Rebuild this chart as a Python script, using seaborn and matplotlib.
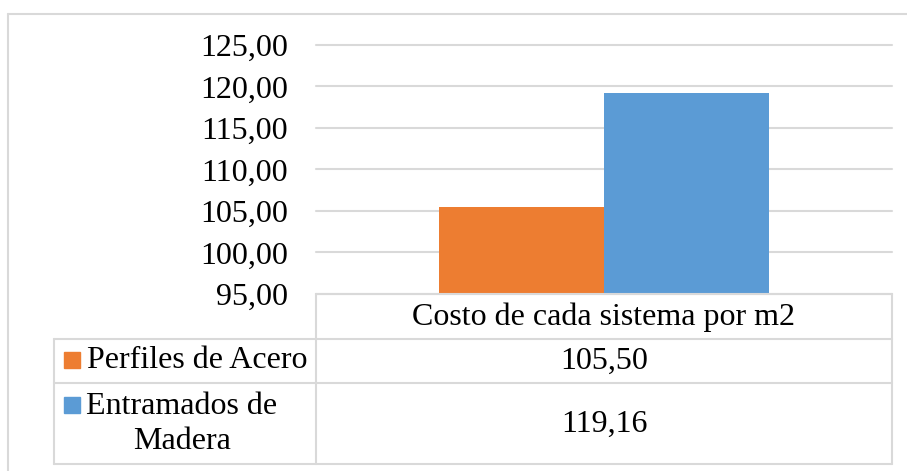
import matplotlib
matplotlib.use("Agg")
import matplotlib.pyplot as plt
import seaborn as sns
import pandas as pd
from matplotlib.lines import Line2D
from matplotlib.patches import Rectangle

# Data
category = ["Costo de cada sistema por m2"]
series = ["Perfiles de Acero", "Entramados de\nMadera"]
values = [105.50, 119.16]
value_labels = ["105,50", "119,16"]
colors = ["#ED7D31", "#5B9BD5"]
y_ticks = [95, 100, 105, 110, 115, 120, 125]
y_tick_labels = ["95,00", "100,00", "105,00", "110,00", "115,00", "120,00", "125,00"]

df = pd.DataFrame({"cat": category * len(series), "serie": series, "valor": values})

sns.set_theme(style="white")
plt.rcParams["font.family"] = ["Liberation Serif", "DejaVu Serif"]
plt.rcParams["text.color"] = "black"
plt.rcParams["ytick.color"] = "black"
plt.rcParams["ytick.labelcolor"] = "black"

W, H = 907, 471
fig = plt.figure(figsize=(W / 100, H / 100), dpi=100)
grid_c = "#d9d9d9"
fs = 23


def fx(px):
    return px / W


def fy(py):
    return 1 - py / H


# Plot area
ax = fig.add_axes([fx(316), fy(294), fx(892) - fx(316), fy(45) - fy(294)])
sns.barplot(data=df, x="cat", y="valor", hue="serie", palette=colors,
            width=0.573, gap=0, saturation=1, ax=ax, legend=False)
ax.set_ylim(95, 125)
ax.set_yticks(y_ticks)
ax.set_yticklabels(y_tick_labels, fontsize=fs, color="black")
ax.tick_params(axis="y", length=0, pad=20)
ax.set_xticks([])
ax.set_xlabel("")
ax.set_ylabel("")
ax.yaxis.grid(True, color=grid_c, linewidth=1.5)
for gl in ax.get_ygridlines():
    gl.set_clip_on(False)
ax.set_axisbelow(True)
for p in ax.patches:
    p.set_edgecolor("none")
for s in ["top", "right", "left", "bottom"]:
    ax.spines[s].set_visible(False)

# Chart frame (top and left edges)
fig.add_artist(Line2D([fx(8), fx(907)], [fy(14), fy(14)], color=grid_c, lw=1.5))
fig.add_artist(Line2D([fx(8), fx(8)], [fy(14), fy(471)], color=grid_c, lw=1.5))

# Data table
def hline(y, x0, x1):
    fig.add_artist(Line2D([fx(x0), fx(x1)], [fy(y), fy(y)], color=grid_c, lw=1.5))


def vline(x, y0, y1):
    fig.add_artist(Line2D([fx(x), fx(x)], [fy(y0), fy(y1)], color=grid_c, lw=1.5))


hline(294, 316, 892)
hline(339, 54, 892)
hline(383, 54, 892)
hline(464, 54, 892)
vline(316, 294, 464)
vline(892, 294, 464)
vline(54, 339, 464)

fig.text(fx(604), fy(317), category[0], ha="center", va="center", fontsize=fs)
row_y = [361, 424]
for i, (lab, val, c) in enumerate(zip(series, value_labels, colors)):
    fig.text(fx(604), fy(row_y[i]), val, ha="center", va="center", fontsize=fs)

# Legend keys in table
fig.add_artist(Rectangle((fx(64), fy(368)), fx(16), 16 / H, color=colors[0], transform=fig.transFigure))
fig.text(fx(87), fy(361), series[0], ha="left", va="center", fontsize=fs)
fig.add_artist(Rectangle((fx(64), fy(413)), fx(16), 16 / H, color=colors[1], transform=fig.transFigure))
fig.text(fx(182), fy(424), series[1], ha="center", va="center", fontsize=fs,
         multialignment="center", linespacing=1.3)

fig.savefig("out.png", dpi=100)
